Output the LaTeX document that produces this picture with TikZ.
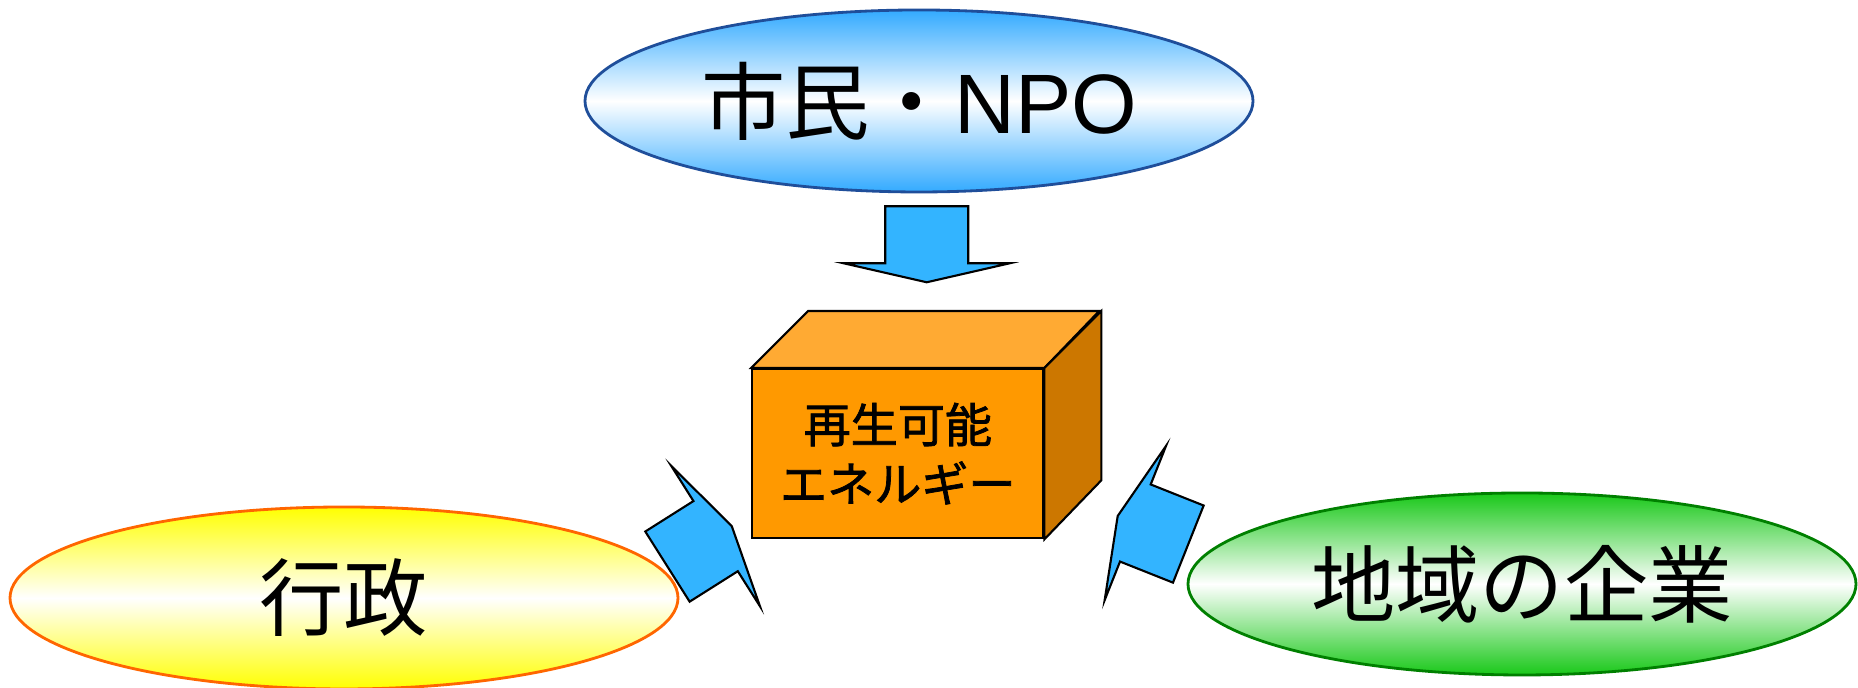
\documentclass[tikz,border=0pt]{standalone}
\usepackage{fontspec}
\newfontfamily\jp{Noto Sans CJK JP}
\newfontfamily\jpbox{Noto Sans CJK JP}[FakeBold=1.6]
\newfontfamily\lat{Liberation Sans}
\usetikzlibrary{shapes.geometric}
\definecolor{arrowblue}{RGB}{51,180,255}
\definecolor{citizenblue}{RGB}{51,170,255}
\definecolor{citizenborder}{RGB}{31,78,154}
\definecolor{govyellow}{RGB}{255,255,0}
\definecolor{govborder}{RGB}{255,102,0}
\definecolor{bizgreen}{RGB}{25,200,25}
\definecolor{bizborder}{RGB}{0,128,0}
\definecolor{boxfront}{RGB}{255,153,0}
\definecolor{boxtop}{RGB}{255,170,51}
\definecolor{boxside}{RGB}{204,119,0}
\tikzset{
  actor/.style={ellipse, minimum width=6.68cm, minimum height=1.82cm, inner sep=0pt,
    line width=0.8pt, font=\jp\fontsize{24pt}{28pt}\selectfont},
  arrowstyle/.style={draw=black, fill=arrowblue, line width=0.6pt, line join=miter},
  boxface/.style={draw=black, line width=0.6pt, line join=miter},
  blockarrow/.pic={
    \draw[arrowstyle] (0,0) -- (-0.19,0.83) -- (-0.19,0.415) -- (-0.76,0.415)
      -- (-0.76,-0.415) -- (-0.19,-0.415) -- (-0.19,-0.83) -- cycle;
  }
}
\begin{document}
\begin{tikzpicture}
\useasboundingbox (0,0) rectangle (18.58,6.88);
\fill[white] (0,0) rectangle (18.58,6.88);

% actors
\node[actor, draw=citizenborder, top color=citizenblue, bottom color=citizenblue, middle color=white]
  (citizen) at (9.19,5.87) {市民・{\lat NPO}};
\node[actor, draw=govborder, top color=govyellow, bottom color=govyellow, middle color=white]
  (gov) at (3.44,0.90) {行政};
\node[actor, draw=bizborder, top color=bizgreen, bottom color=bizgreen, middle color=white]
  (biz) at (15.22,1.04) {地域の企業};

% box
\node[boxface, fill=boxfront, minimum width=2.91cm, minimum height=1.693cm, inner sep=0pt,
  align=center, font=\jpbox\fontsize{13.4pt}{16.8pt}\selectfont]
  (box) at (8.978,2.343) {再生可能\\エネルギー};
\draw[boxface, fill=boxtop] (box.north west) -- ++(0.57,0.57) -- ++(2.91,0) -- (box.north east) -- cycle;
\draw[boxface, fill=boxside] (box.north east) -- ++(0.57,0.57) -- ++(0,-1.693) -- (box.south east) -- cycle;

% block arrows
\pic[rotate=-90] at (9.267,4.057) {blockarrow};
\pic[rotate=32.3] at (7.317,1.62) {blockarrow};
\pic[rotate=158.3] at (11.177,1.72) {blockarrow};
\end{tikzpicture}
\end{document}
